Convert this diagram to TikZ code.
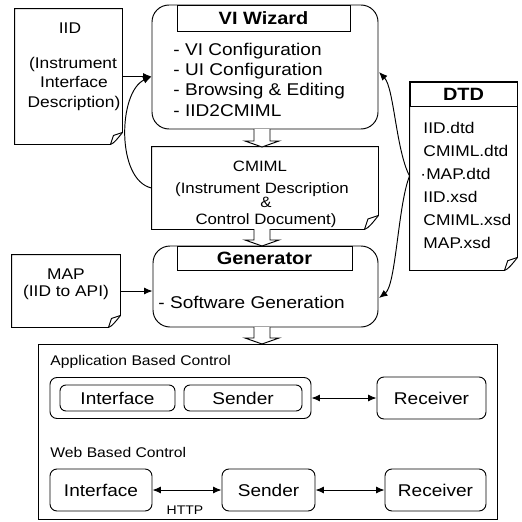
\documentclass[tikz,border=0pt]{standalone}
\usepackage{fontspec}
\setmainfont[FakeStretch=1.12]{Liberation Sans}
\usetikzlibrary{arrows.meta}
\newcommand\fA{\fontsize{17}{20}\selectfont}
\newcommand\fB{\fontsize{17.8}{20}\selectfont\bfseries}
\newcommand\fD{\fontsize{15.5}{18}\selectfont}
\newcommand\fC{\fontsize{15}{18}\selectfont}
\newcommand\fS{\fontsize{14}{17}\selectfont}
\newcommand\fH{\fontsize{12.5}{15}\selectfont}
\newcommand\docoutline[2]{%
  \draw (#1.north west) -- (#1.north east) -- ([yshift=#2]#1.south east)
     .. controls ([xshift=-#2*0.4,yshift=#2*0.5]#1.south east) and ([xshift=-#2*0.7,yshift=#2*0.1]#1.south east) .. ([xshift=-#2]#1.south east)
     -- (#1.south west) -- cycle;
  \draw ([xshift=-#2]#1.south east) -- ([xshift=-#2*0.75,yshift=#2*0.75]#1.south east) -- ([yshift=#2]#1.south east);}
\newcommand\hollowarrow[3]{%
  \draw[fill=white] (#1-8,#2) -- (#1-8,#3-6) -- (#1-17,#3-6) -- (#1,#3) -- (#1+17,#3-6) -- (#1+8,#3-6) -- (#1+8,#2);}
\begin{document}
\begin{tikzpicture}[x=1pt,y=-1pt,line width=0.95pt,
  bigbox/.style={draw,rounded corners=17pt,inner sep=0pt},
  rbox/.style={draw,rounded corners=7pt,inner sep=0pt},
  plain/.style={draw,inner sep=0pt},
  doc/.style={draw=none,inner sep=0pt},
  txt/.style={inner sep=0pt},
  arr/.style={-{Latex[length=8.5pt,width=7pt]}},
  darr/.style={{Latex[length=8.5pt,width=7pt]}-{Latex[length=8.5pt,width=7pt]}}]
\useasboundingbox (0,0) rectangle (522,522);

% VI Wizard
\node[bigbox,minimum width=226pt,minimum height=124pt] (wiz) at (265,67) {};
\node[plain,minimum width=173pt,minimum height=26pt] (wizt) at (263.5,18) {\fB VI Wizard};
\node[txt,anchor=base west] (wi1) at (173,55) {\fA - VI Configuration};
\node[txt,anchor=base west] (wi2) at (173,75) {\fA - UI Configuration};
\node[txt,anchor=base west] (wi3) at (173,95) {\fA - Browsing \& Editing};
\node[txt,anchor=base west] (wi4) at (173,116) {\fA - IID2CMIML};

% IID document
\node[doc,minimum width=107pt,minimum height=135pt] (iid) at (68.5,76.5) {};
\docoutline{iid}{12pt}
\node[txt,anchor=base] (iid1) at (70,33) {\fD IID};
\node[txt,anchor=base] (iid2) at (73,68) {\fD (Instrument};
\node[txt,anchor=base] (iid3) at (74,87) {\fD Interface};
\node[txt,anchor=base] (iid4) at (74,107) {\fD Description)};

% CMIML document
\node[doc,minimum width=226pt,minimum height=82pt] (cm) at (265,188) {};
\docoutline{cm}{14pt}
\node[txt,anchor=base] (cm1) at (260,171) {\fC CMIML};
\node[txt,anchor=base] (cm2) at (262,193) {\fC (Instrument Description};
\node[txt,anchor=base] (cm3) at (266,207) {\fC \&};
\node[txt,anchor=base] (cm4) at (266,224) {\fC Control Document)};

% Generator
\node[bigbox,minimum width=225pt,minimum height=81pt] (gen) at (265.5,286.5) {};
\node[plain,minimum width=175pt,minimum height=24pt] (gent) at (264.5,258) {\fB Generator};
\node[txt,anchor=base west] (gen1) at (158,308) {\fA - Software Generation};

% MAP document
\node[doc,minimum width=108pt,minimum height=72pt] (map) at (66,291) {};
\docoutline{map}{12pt}
\node[txt,anchor=base] (map1) at (66,279) {\fD MAP};
\node[txt,anchor=base] (map2) at (66,296) {\fD (IID to API)};

% DTD document
\node[doc,minimum width=107pt,minimum height=188pt] (dtd) at (463.5,176) {};
\docoutline{dtd}{13pt}
\node[plain,minimum width=107pt,minimum height=24pt] (dtdt) at (463.5,94) {\fB DTD};
\node[txt,anchor=base west] (d1) at (423,133) {\fD IID.dtd};
\node[txt,anchor=base west] (d2) at (423,156) {\fD CMIML.dtd};
\node[txt,anchor=base west] (d3) at (420,179) {\fD ·MAP.dtd};
\node[txt,anchor=base west] (d4) at (423,202) {\fD IID.xsd};
\node[txt,anchor=base west] (d5) at (423,225) {\fD CMIML.xsd};
\node[txt,anchor=base west] (d6) at (423,248) {\fD MAP.xsd};

% hollow block arrows
\hollowarrow{262}{129}{147}
\hollowarrow{262}{229}{246}
\hollowarrow{262}{327}{344}

% connectors to wizard / generator
\coordinate (wizin) at (iid.east -| wiz.west);
\draw[arr] (iid.east) -- (wizin);
\draw[arr] (cm.west) .. controls (116,180) and (118,92) .. (wizin);
\draw[arr] (map.east) -- (map.east -| gen.west);
\coordinate (wizr) at (379,72);
\coordinate (genr) at (379,298);
\draw[arr] (dtd.west) .. controls (396,150) and (394,88) .. (wizr);
\draw[arr] (dtd.west) .. controls (398,205) and (396,285) .. (genr);

% bottom container
\node[plain,minimum width=459pt,minimum height=175pt] (cont) at (267.5,431.5) {};
\node[txt,anchor=base west] (applbl) at (50,365) {\fS Application Based Control};
\node[rbox,minimum width=261pt,minimum height=41pt] (appo) at (180.5,398) {};
\node[rbox,rounded corners=6pt,minimum width=115pt,minimum height=26pt] (aint) at (117.5,398) {\fA Interface};
\node[rbox,rounded corners=6pt,minimum width=118pt,minimum height=26pt] (asend) at (243,398) {\fA Sender};
\node[rbox,minimum width=109pt,minimum height=42pt] (arec) at (431.5,398) {\fA Receiver};
\draw[darr] (appo.east) -- (arec.west);

\node[txt,anchor=base west] (weblbl) at (50,457) {\fS Web Based Control};
\node[rbox,minimum width=102pt,minimum height=42pt] (wint) at (101,490) {\fA Interface};
\node[rbox,minimum width=93pt,minimum height=42pt] (wsend) at (268.5,490) {\fA Sender};
\node[rbox,minimum width=101pt,minimum height=42pt] (wrec) at (435.5,490) {\fA Receiver};
\draw[darr] (wint.east) -- (wsend.west);
\node[txt,anchor=base] (http) at (185,514) {\fH HTTP};
\draw[darr] (wsend.east) -- (wrec.west);
\end{tikzpicture}
\end{document}
